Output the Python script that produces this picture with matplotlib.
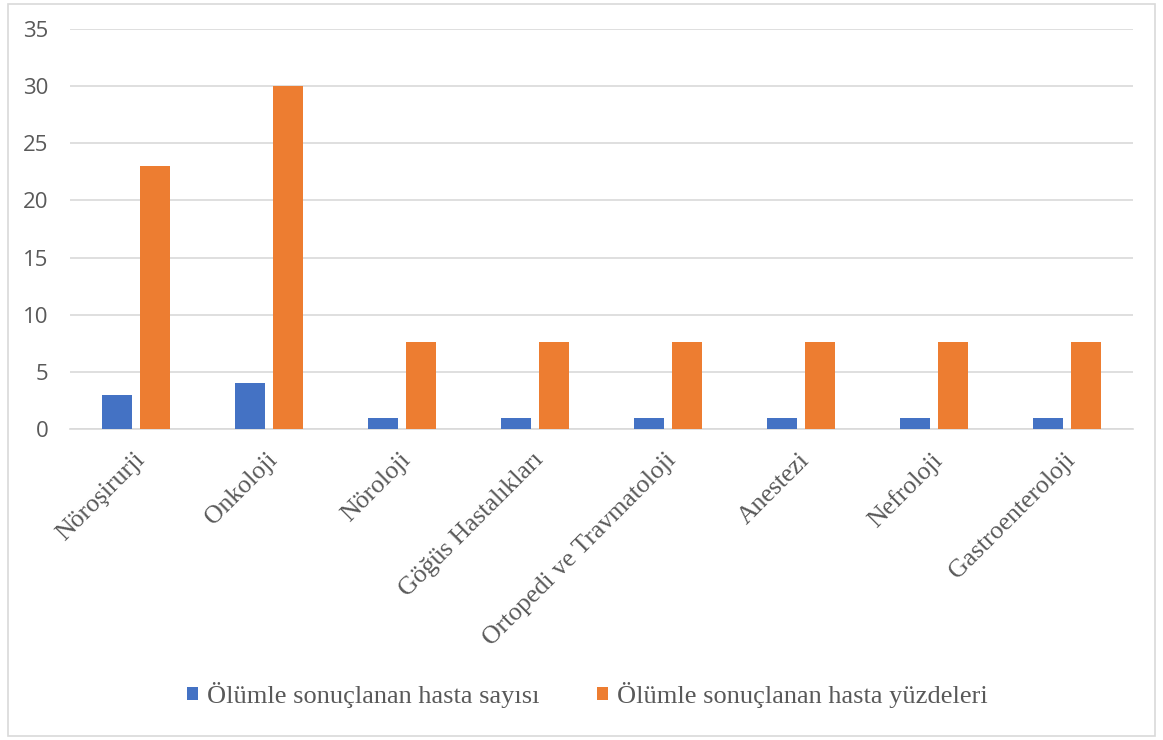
import matplotlib
matplotlib.use("Agg")
import matplotlib.pyplot as plt
import numpy as np
from matplotlib.patches import Rectangle
from matplotlib.transforms import ScaledTranslation

categories = ["Nöroşirurji", "Onkoloji", "Nöroloji", "Göğüs Hastalıkları",
              "Ortopedi ve Travmatoloji", "Anestezi", "Nefroloji", "Gastroenteroloji"]
counts = [3, 4, 1, 1, 1, 1, 1, 1]
percents = [23, 30, 7.6, 7.6, 7.6, 7.6, 7.6, 7.6]
series_names = ["Ölümle sonuçlanan hasta sayısı", "Ölümle sonuçlanan hasta yüzdeleri"]
yticks = [0, 5, 10, 15, 20, 25, 30, 35]

blue = "#4472C4"
orange = "#ED7D31"
grid_c = "#D9D9D9"
text_c = "#595959"

fig = plt.figure(figsize=(11.63, 7.40), dpi=100)
ax = fig.add_axes([0.0598, 0.4203, 0.9148, 0.5405])

x = np.arange(len(categories))
w = 0.226
off = 0.143
ax.bar(x - off, counts, width=w, color=blue, label=series_names[0], zorder=3)
ax.bar(x + off, percents, width=w, color=orange, label=series_names[1], zorder=3)

ax.set_xlim(-0.5, len(categories) - 0.5)
ax.set_ylim(0, 35)
ax.set_yticks(yticks)
ax.set_yticklabels([str(v) for v in yticks], fontsize=16, color=text_c, family="Open Sans")
ax.yaxis.grid(True, color=grid_c, linewidth=1.2, zorder=0)
ax.tick_params(axis="y", length=0, pad=15)
ax.tick_params(axis="x", length=0, pad=20)
for s in ["top", "right", "left"]:
    ax.spines[s].set_visible(False)
ax.spines["bottom"].set_color(grid_c)
ax.spines["bottom"].set_linewidth(1.2)

ax.set_xticks(x)
ax.set_xticklabels(categories, rotation=45, ha="right", va="center",
                   rotation_mode="anchor", fontsize=18.5, color=text_c,
                   family="Liberation Serif")
for lbl in ax.get_xticklabels():
    lbl.set_transform(lbl.get_transform() + ScaledTranslation(0.05, 0, fig.dpi_scale_trans))

leg = fig.legend(loc="center", bbox_to_anchor=(0.505, 0.061), ncol=2, frameon=False,
                 prop={"family": "Liberation Serif", "size": 19},
                 handlelength=0.42, handleheight=0.42, handletextpad=0.35,
                 columnspacing=2.15, labelcolor=text_c)

fig.patches.append(Rectangle((0.007, 0.005), 0.986, 0.99, transform=fig.transFigure,
                             fill=False, edgecolor=grid_c, linewidth=1.2))

fig.savefig("out.png", dpi=100, facecolor="white")
